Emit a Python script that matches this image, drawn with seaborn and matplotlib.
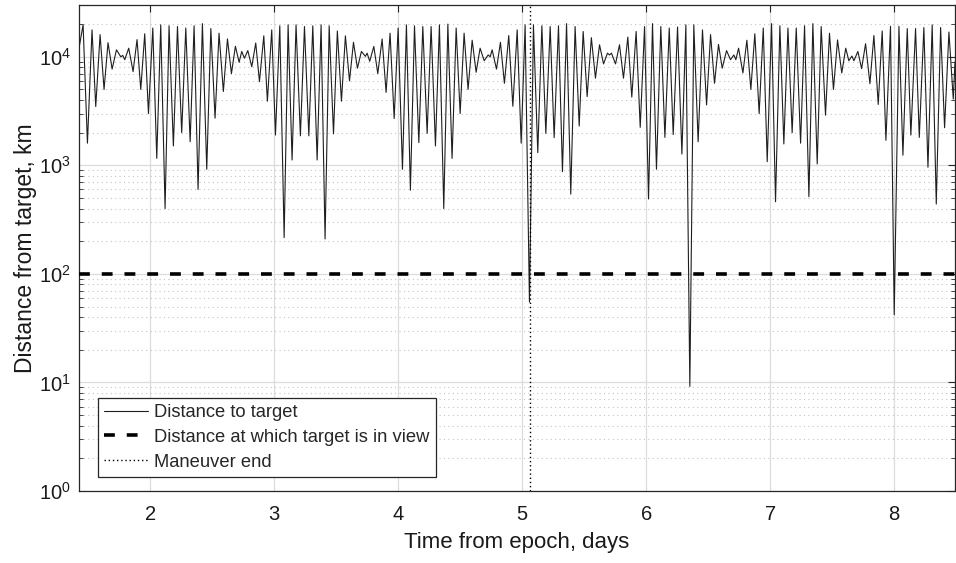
import matplotlib
matplotlib.use("Agg")
import matplotlib.pyplot as plt
import seaborn as sns
import pandas as pd
from matplotlib.ticker import FixedLocator, LogLocator, NullFormatter

# ---------------- data ----------------
# successive local extrema of the distance curve (days from epoch, km)
extrema_day = [
    1.427, 1.460, 1.495, 1.532, 1.562, 1.597, 1.629, 1.661, 1.694, 1.729, 1.764, 1.780, 1.796,
    1.828, 1.863, 1.895, 1.925, 1.957, 1.987, 2.022, 2.054, 2.086, 2.121, 2.153, 2.188, 2.221,
    2.255, 2.288, 2.323, 2.355, 2.387, 2.422, 2.457,
    2.490, 2.524, 2.556, 2.591, 2.624, 2.656, 2.688, 2.718, 2.739, 2.761, 2.788, 2.820, 2.852,
    2.882, 2.917, 2.946, 2.981, 3.011, 3.046, 3.081, 3.113, 3.145, 3.177, 3.212, 3.245, 3.280,
    3.312, 3.347, 3.379, 3.411, 3.444, 3.479,
    3.510, 3.543, 3.575, 3.608, 3.640, 3.672, 3.704, 3.736, 3.750, 3.771, 3.804, 3.836, 3.871,
    3.903, 3.935, 3.968, 4.000, 4.035, 4.067, 4.099, 4.132, 4.167, 4.199, 4.234, 4.266, 4.301,
    4.333, 4.368, 4.401, 4.435, 4.468, 4.500,
    4.532, 4.564, 4.597, 4.629, 4.661, 4.694, 4.726, 4.742, 4.758, 4.793, 4.825, 4.857, 4.892,
    4.925, 4.960, 4.992, 5.024, 5.059, 5.091, 5.126, 5.159, 5.191, 5.226, 5.258, 5.293, 5.325,
    5.358, 5.392, 5.427, 5.460, 5.492, 5.524,
    5.558, 5.591, 5.624, 5.656, 5.688, 5.704, 5.720, 5.753, 5.785, 5.817, 5.852, 5.884, 5.919,
    5.952, 5.987, 6.019, 6.051, 6.083, 6.118, 6.151, 6.186, 6.218, 6.253, 6.288, 6.320, 6.352,
    6.384, 6.419, 6.454, 6.487, 6.519, 6.551,
    6.583, 6.613, 6.648, 6.680, 6.707, 6.723, 6.745, 6.780, 6.812, 6.844, 6.876, 6.911, 6.944,
    6.976, 7.011, 7.043, 7.078, 7.110, 7.143, 7.177, 7.210, 7.245, 7.277, 7.312, 7.344, 7.379,
    7.411, 7.446, 7.478, 7.510, 7.543, 7.577, 7.609,
    7.634, 7.659, 7.675, 7.707, 7.737, 7.769, 7.804, 7.836, 7.871, 7.903, 7.933, 7.970, 8.000,
    8.038, 8.070, 8.105, 8.134, 8.172, 8.202, 8.239, 8.272, 8.306, 8.339, 8.374, 8.406, 8.441,
    8.476, 8.490,
]
extrema_km = [
    12000, 19700, 1600, 17700, 3480, 16000, 5000, 13500, 7700, 11600, 10000, 10300, 9400,
    12000, 7300, 14400, 5000, 16300, 3000, 18400, 1160, 19700, 400, 19300, 1510, 19000,
    2000, 18400, 1650, 19300, 600, 20200, 920,
    18200, 2720, 16500, 4790, 14600, 7000, 12500, 8900, 11200, 9700, 11400, 8100, 13400,
    5900, 15600, 3900, 17700, 1900, 19300, 216, 19700, 1120, 19700, 1870, 19000, 1870,
    19300, 1120, 19700, 210, 19300, 1950,
    17300, 3900, 15600, 6000, 13600, 7850, 11200, 10100, 10800, 9100, 12450, 7000, 14600,
    4700, 16500, 2700, 18400, 920, 19700, 590, 19300, 1620, 19000, 1970, 19000, 1510,
    19700, 400, 20000, 1160, 18400, 3000,
    16500, 5000, 14200, 7200, 12000, 9200, 10400, 10000, 11600, 7700, 13600, 5700, 15700,
    3500, 17700, 1600, 19700, 55, 19700, 1310, 19300, 1970, 19000, 1800, 19300, 875,
    20200, 543, 19000, 2300, 17100, 4300,
    15000, 6350, 12900, 8600, 10800, 10400, 10800, 8600, 12900, 6350, 15200, 4250, 17100,
    2240, 19000, 490, 20200, 920, 19000, 1810, 18400, 1920, 18800, 1270, 19700, 9.2,
    19700, 1650, 17700, 3600, 16000, 5700,
    13000, 7850, 11400, 9400, 10400, 9400, 12000, 7100, 14200, 5000, 16300, 3000, 18400,
    1080, 20200, 462, 19300, 1575, 18400, 2000, 18400, 1600, 19300, 514, 20200, 1030,
    19000, 2900, 16500, 5000, 14300, 7100, 12000,
    9200, 10150, 9200, 11200, 7780, 13200, 5650, 15700, 3640, 17300, 1700, 19100, 42,
    19100, 1240, 18200, 1900, 18200, 1810, 18600, 960, 19700, 440, 18600, 2220, 16900,
    4080, 9000,
]
view_distance_km = 100
maneuver_end_day = 5.06
x_ticks = [2, 3, 4, 5, 6, 7, 8]
y_ticks = [1, 10, 100, 1000, 10000]
y_tick_labels = [r"$10^{0}$", r"$10^{1}$", r"$10^{2}$", r"$10^{3}$", r"$10^{4}$"]
x_range = (1.427, 8.49)
y_range = (1, 30000)

# ---------------- style ----------------
sns.set_theme(style="white")
plt.rcParams["font.family"] = ["Liberation Sans", "DejaVu Sans"]
plt.rcParams["mathtext.fontset"] = "custom"
plt.rcParams["mathtext.rm"] = "Liberation Sans"
plt.rcParams["mathtext.it"] = "Liberation Sans:italic"
plt.rcParams["mathtext.bf"] = "Liberation Sans:bold"
plt.rcParams["mathtext.default"] = "regular"

axis_col = "#262626"

fig = plt.figure(figsize=(9.56, 5.63), dpi=100)
ax = fig.add_axes([79 / 956, 1 - 491 / 563, 876 / 956, 486 / 563])

df = pd.DataFrame({"day": extrema_day, "km": extrema_km})
sns.lineplot(data=df, x="day", y="km", ax=ax, color="#1f1f1f", linewidth=0.8,
             sort=False, estimator=None, label="Distance to target", zorder=3)
ax.set_yscale("log")

ax.axhline(view_distance_km, color="black", linewidth=2.6, linestyle=(0, (3.0, 3.3)),
           label="Distance at which target is in view", zorder=4)
ax.axvline(maneuver_end_day, color="black", linewidth=1.0, linestyle=(0, (1, 2)),
           label="Maneuver end", zorder=4)

ax.set_xlim(*x_range)
ax.set_ylim(*y_range)
ax.xaxis.set_major_locator(FixedLocator(x_ticks))
ax.set_xticklabels([str(t) for t in x_ticks])
ax.yaxis.set_major_locator(FixedLocator(y_ticks))
ax.set_yticklabels(y_tick_labels)
ax.yaxis.set_minor_locator(LogLocator(base=10, subs=range(2, 10)))
ax.yaxis.set_minor_formatter(NullFormatter())

ax.set_axisbelow(True)
ax.grid(True, which="major", color="#dcdcdc", linewidth=0.9, linestyle="-")
ax.yaxis.grid(True, which="minor", color="#c4c4c4", linewidth=0.8, linestyle=(0, (1, 3)))

ax.tick_params(axis="both", which="major", direction="in", top=True, right=True,
               length=5, width=0.8, color=axis_col, labelcolor="#1a1a1a", labelsize=14.5)
ax.tick_params(axis="x", which="major", pad=10)
ax.tick_params(axis="y", which="major", pad=6)
ax.tick_params(axis="y", which="minor", direction="in", left=True, right=True,
               length=3, width=0.6, color=axis_col)
for s in ax.spines.values():
    s.set_color(axis_col)
    s.set_linewidth(0.9)

ax.set_xlabel("Time from epoch, days", fontsize=16, color="#1a1a1a", labelpad=6)
ax.set_ylabel("Distance from target, km", fontsize=16.5, color="#1a1a1a", labelpad=1)

leg = ax.legend(loc="lower left", bbox_to_anchor=(19 / 876, 14 / 486), borderaxespad=0,
                fontsize=13.2, frameon=True, fancybox=False, framealpha=1,
                edgecolor=axis_col, handlelength=2.4, handletextpad=0.3,
                labelspacing=0.42, borderpad=0.35)
leg.get_frame().set_linewidth(0.9)

fig.savefig("out.png", dpi=100)
